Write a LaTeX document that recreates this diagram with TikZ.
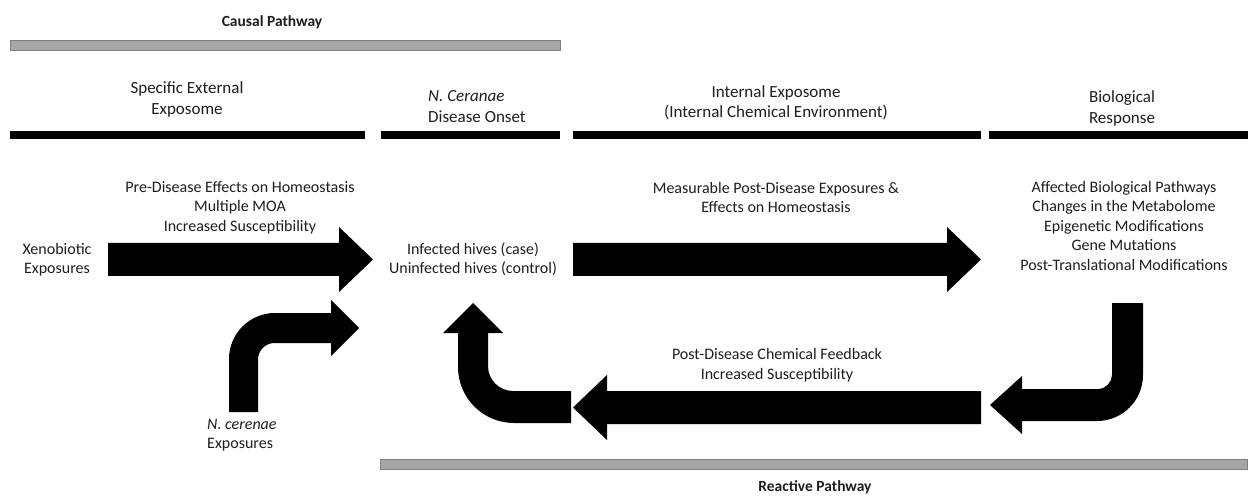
\documentclass[tikz,border=0pt]{standalone}
\usepackage{fontspec}
\setmainfont{Carlito}
\definecolor{txt}{RGB}{30,30,30}
\definecolor{barfill}{RGB}{166,166,166}
\definecolor{barline}{RGB}{128,128,128}
\begin{document}
\begin{tikzpicture}[x=1pt,y=-1pt,
  body/.style={font=\fontsize{16}{19.5}\selectfont, align=center, inner sep=0pt, text=txt},
  headtxt/.style={font=\fontsize{17}{20.5}\selectfont, align=center, inner sep=0pt, text=txt},
  titletxt/.style={font=\fontsize{15.5}{19}\selectfont\bfseries, inner sep=0pt, text=txt},
  graybar/.style={fill=barfill, draw=barline, line width=1pt},
  blackbar/.style={fill=black},
  blockarrow/.style={fill=black}]
\useasboundingbox (0,0) rectangle (1248,497);
\fill[white] (0,0) rectangle (1248,497);

% titles and pathway bars
\node[titletxt] (causal) at (272,22) {Causal Pathway};
\filldraw[graybar] (10,41) rectangle (560,51);
\filldraw[graybar] (380,459) rectangle (1247,469);
\node[titletxt] (reactive) at (815,487) {Reactive Pathway};

% column headers
\node[headtxt] (h1) at (187,99.5) {Specific External\\Exposome};
\node[headtxt, align=left, anchor=west] (h2) at (428,106.5) {\textit{N. Ceranae}\\Disease Onset};
\node[headtxt] (h3) at (776,103) {Internal Exposome\\(Internal Chemical Environment)};
\node[headtxt] (h4) at (1122,108.5) {Biological\\Response};

\fill[blackbar] (10,131) rectangle (365,139);
\fill[blackbar] (381,131) rectangle (560,139);
\fill[blackbar] (573,131) rectangle (981,139);
\fill[blackbar] (989,131) rectangle (1248,139);

% body texts
\node[body] (pre) at (240,207.5) {Pre-Disease Effects on Homeostasis\\Multiple MOA\\Increased Susceptibility};
\node[body] (xeno) at (57,259.5) {Xenobiotic\\Exposures};
\node[body] (hives) at (473,259.5) {Infected hives (case)\\Uninfected hives (control)};
\node[body] (meas) at (776,197.5) {Measurable Post-Disease Exposures \&\\Effects on Homeostasis};
\node[body] (bio) at (1124,226) {Affected Biological Pathways\\Changes in the Metabolome\\Epigenetic Modifications\\Gene Mutations\\Post-Translational Modifications};
\node[body] (feed) at (777,365) {Post-Disease Chemical Feedback\\Increased Susceptibility};
\node[body, align=left, anchor=west] (ncer) at (207,435) {\textit{N. cerenae}\\Exposures};

% block arrows
\fill[blockarrow] (108,243) -- (339,243) -- (339,227) -- (373,259.5) -- (339,292) -- (339,276) -- (108,276) -- cycle;
\fill[blockarrow] (573,243) -- (947,243) -- (947,227) -- (981,259.5) -- (947,292) -- (947,276) -- (573,276) -- cycle;
\fill[blockarrow] (981,391) -- (607,391) -- (607,375) -- (573,407.5) -- (607,440) -- (607,424) -- (981,424) -- cycle;
\fill[blockarrow] (1112,303) -- (1143,303) -- (1143,375)
  .. controls (1143,400.4) and (1122.4,421) .. (1097,421) -- (1022,421) -- (1022,434) -- (990,405)
  -- (1022,376) -- (1022,389) -- (1098,389)
  .. controls (1105.7,389) and (1112,382.3) .. (1112,375) -- cycle;
\fill[blockarrow] (571,391) -- (571,423) -- (514,423)
  .. controls (483.1,423) and (458,397.9) .. (458,367) -- (458,333) -- (443,333) -- (473,303)
  -- (503,333) -- (488,333) -- (488,366)
  .. controls (488,379.8) and (499.2,391) .. (513,391) -- cycle;
\fill[blockarrow] (229,412) -- (229,359) .. controls (229,333.6) and (249.6,313) .. (275,313)
  -- (331,313) -- (331,300) -- (359,328) -- (331,356) -- (331,343) -- (274.5,343)
  .. controls (265.4,343) and (258,350.4) .. (258,359.5) -- (258,412) -- cycle;
\end{tikzpicture}
\end{document}
